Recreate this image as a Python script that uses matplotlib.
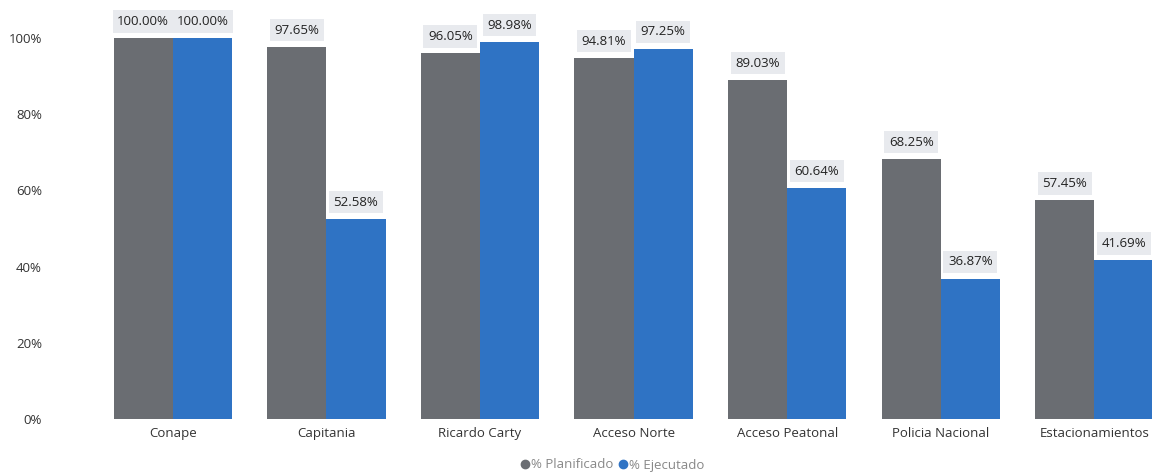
import numpy as np
import matplotlib
matplotlib.use("Agg")
import matplotlib.pyplot as plt
from matplotlib.lines import Line2D

# datos
categorias = ["Conape", "Capitania", "Ricardo Carty", "Acceso Norte",
              "Acceso Peatonal", "Policia Nacional", "Estacionamientos"]
planificado = [100.00, 97.65, 96.05, 94.81, 89.03, 68.25, 57.45]
ejecutado = [100.00, 52.58, 98.98, 97.25, 60.64, 36.87, 41.69]

plt.rcParams['font.family'] = ['Open Sans', 'DejaVu Sans']

gris = '#6a6d72'
azul = '#2f73c4'

fig = plt.figure(figsize=(11.52, 4.75), dpi=100)
# eje recortado a la derecha como en la imagen original
ax = fig.add_axes([96 / 1152, 56 / 475, 1056 / 1152, 419 / 475])

x = np.arange(len(categorias))
w = 0.385
b1 = ax.bar(x - w / 2, planificado, w, color=gris, label='% Planificado')
b2 = ax.bar(x + w / 2, ejecutado, w, color=azul, label='% Ejecutado')

# etiquetas de datos con fondo gris claro
for barras, vals in [(b1, planificado), (b2, ejecutado)]:
    for r, v in zip(barras, vals):
        ax.annotate(f"{v:.2f}%", (r.get_x() + r.get_width() / 2, v),
                    xytext=(0, 12), textcoords='offset points',
                    ha='center', va='center', fontsize=9.5, color='#222222',
                    bbox=dict(boxstyle='square,pad=0.35', fc='#e8eaee', ec='none'))

ax.set_xlim(-0.5, -0.5 + 1056 / 153.6)
ax.set_ylim(0, 110)
ax.set_yticks([0, 20, 40, 60, 80, 100])
ax.set_yticklabels([f"{t}%" for t in [0, 20, 40, 60, 80, 100]])
ax.set_xticks(x)
ax.set_xticklabels(categorias)
ax.tick_params(axis='both', length=0, labelsize=9.5, colors='#333333')
ax.tick_params(axis='y', pad=39)
ax.tick_params(axis='x', pad=6)
for s in ax.spines.values():
    s.set_visible(False)

h, l = ax.get_legend_handles_labels()
marcas = [Line2D([], [], marker='o', ls='', color=gris, markersize=6),
          Line2D([], [], marker='o', ls='', color=azul, markersize=6)]
fig.legend(marcas, l, loc='center', bbox_to_anchor=(612 / 1152, 1 - 465 / 475),
           ncol=2, frameon=False, fontsize=9.5, labelcolor='#888888',
           handletextpad=0.1, columnspacing=0.3, handlelength=0.8)

fig.savefig('out.png', dpi=100)
